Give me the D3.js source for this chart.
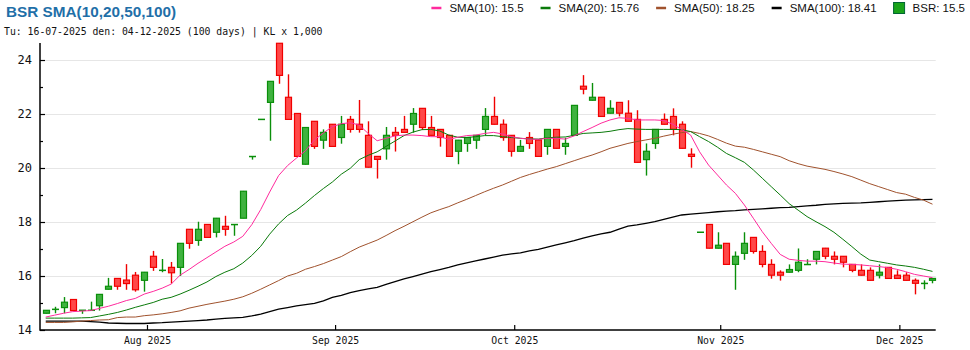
<!DOCTYPE html>
<html><head><meta charset="utf-8">
<script src="https://cdn.jsdelivr.net/npm/d3@7/dist/d3.min.js"></script>
<style>html,body{margin:0;padding:0;background:#fff;}svg{display:block;}</style>
</head><body><svg id="c" width="970" height="350"></svg>
<script>
// ---- data ----
const title = "BSR SMA(10,20,50,100)";
const subtitle = "Tu: 16-07-2025 den: 04-12-2025 (100 days) | KL x 1,000";
const startDate = "2025-07-16";
const tradingDays = 100;
const holidays = ["2025-09-01", "2025-09-02"];
const monthLabels = ["Aug 2025", "Sep 2025", "Oct 2025", "Nov 2025", "Dec 2025"];
const yTicks = [14, 16, 18, 20, 22, 24];
const yMinorTicks = [15, 17, 19, 21, 23];
const legendNames = ["SMA(10): 15.5", "SMA(20): 15.76", "SMA(50): 18.25", "SMA(100): 18.41", "BSR: 15.5"];

const open = [14.62,14.76,14.83,15.13,14.72,14.72,14.90,15.51,15.91,15.85,16.03,15.84,16.73,16.20,16.32,16.32,17.73,17.32,17.91,17.62,
17.84,17.90,18.14,20.42,21.80,22.43,24.62,22.62,22.02,20.14,21.73,21.03,21.62,21.13,21.80,21.62,21.21,20.43,20.71,21.32,
21.43,21.62,22.21,21.50,21.43,21.21,20.62,20.91,21.03,21.43,21.91,21.62,21.21,20.62,21.13,21.04,20.80,21.43,20.80,21.21,
23.03,22.51,22.62,22.03,22.43,22.03,21.80,20.31,20.91,21.80,21.91,21.62,20.51,17.62,17.91,17.03,17.21,16.43,16.84,17.43,
16.91,16.43,16.14,16.14,16.21,16.42,16.62,17.03,16.73,16.73,16.43,16.21,16.21,16.03,16.32,16.03,16.03,15.84,15.72,15.84];
const high = [14.74,14.86,15.22,15.14,14.74,15.05,15.33,15.93,15.92,16.44,16.15,16.15,16.93,16.63,16.52,17.22,17.74,18.01,17.92,18.15,
18.23,17.92,19.15,20.44,21.80,23.22,24.63,23.47,22.03,21.51,21.74,21.43,21.63,21.93,21.93,22.52,21.73,20.44,21.52,21.52,
21.93,22.22,22.22,21.93,21.44,21.22,21.04,21.14,21.22,22.22,22.64,21.80,21.22,21.04,21.33,21.05,21.44,21.44,21.12,22.33,
23.44,23.15,22.63,22.51,22.44,22.51,22.14,20.91,21.44,22.02,22.21,21.73,20.73,17.62,17.92,17.62,17.22,16.91,17.62,17.44,
17.14,16.62,16.21,16.43,17.02,16.62,16.92,17.04,16.91,16.74,16.44,16.43,16.32,16.43,16.33,16.21,16.14,15.91,15.84,15.92];
const low = [14.61,14.62,14.62,14.71,14.60,14.72,14.72,15.50,15.49,15.49,15.42,15.42,16.19,16.14,15.72,16.00,17.01,17.12,17.42,17.43,
17.49,17.49,18.14,20.31,21.80,21.01,23.12,21.79,20.42,20.13,20.71,20.71,20.79,20.90,21.31,21.31,20.02,19.61,20.31,20.61,
21.31,21.31,21.41,21.20,20.79,20.42,20.14,20.60,20.71,21.21,21.61,21.01,20.42,20.61,20.71,20.42,20.49,20.72,20.49,21.20,
22.73,22.50,21.90,22.02,21.91,21.72,20.20,19.72,20.71,21.61,21.21,20.72,20.01,17.62,17.02,17.02,16.42,15.49,16.60,16.83,
16.32,15.90,15.83,16.13,16.14,16.42,16.43,16.62,16.43,16.32,16.14,16.02,15.83,15.91,15.90,15.90,15.83,15.32,15.51,15.73];
const close = [14.73,14.77,15.03,14.72,14.74,14.74,15.32,15.62,15.62,15.72,15.49,16.14,16.32,16.22,16.12,17.21,17.21,17.73,17.43,18.14,
17.73,17.91,19.14,20.43,21.80,23.21,23.43,21.80,20.43,21.50,20.80,21.32,20.80,21.62,21.43,21.43,20.03,20.32,21.21,21.21,
21.32,22.02,21.50,21.21,21.13,20.43,21.03,21.13,21.21,21.91,21.62,21.13,20.62,20.80,20.91,20.43,21.43,20.73,20.91,22.32,
22.92,22.62,21.91,22.21,22.03,21.73,20.21,20.62,21.43,21.62,21.43,20.73,20.43,17.62,17.03,17.14,16.43,16.73,17.21,16.91,
16.43,16.03,16.03,16.24,16.51,16.43,16.91,16.73,16.62,16.51,16.21,16.03,15.84,16.14,15.91,15.91,15.84,15.73,15.73,15.91];

const sma10 = [14.48,14.55,14.62,14.68,14.70,14.72,14.80,14.88,14.98,15.09,15.17,15.33,15.43,15.55,15.70,16.03,16.24,16.47,16.68,16.89,
17.10,17.26,17.47,17.90,18.46,19.11,19.72,20.09,20.37,20.64,21.04,21.30,21.53,21.64,21.68,21.59,21.28,21.01,21.10,21.19,
21.22,21.22,21.20,21.16,21.16,21.06,21.14,21.20,21.22,21.28,21.32,21.26,21.16,21.10,21.07,21.06,21.10,21.10,21.07,21.19,
21.35,21.50,21.66,21.78,21.86,21.84,21.78,21.78,21.78,21.76,21.62,21.43,21.22,20.60,20.11,19.74,19.37,19.06,18.63,18.14,
17.64,17.21,16.80,16.62,16.58,16.55,16.55,16.53,16.48,16.44,16.43,16.41,16.38,16.35,16.31,16.25,16.16,16.06,16.00,15.94];
const sma20 = [14.44,14.44,14.44,14.44,14.45,14.46,14.52,14.58,14.65,14.74,14.84,14.93,15.02,15.14,15.21,15.33,15.47,15.62,15.78,15.98,
16.14,16.27,16.48,16.76,17.10,17.55,17.93,18.24,18.44,18.70,18.98,19.24,19.48,19.77,19.99,20.31,20.47,20.60,20.80,21.00,
21.20,21.33,21.42,21.43,21.37,21.22,21.14,21.13,21.16,21.20,21.20,21.16,21.13,21.10,21.08,21.07,21.12,21.14,21.15,21.21,
21.28,21.30,21.32,21.36,21.42,21.46,21.44,21.43,21.43,21.43,21.43,21.42,21.35,21.16,20.98,20.77,20.54,20.38,20.21,19.93,
19.62,19.31,19.00,18.68,18.44,18.20,18.01,17.83,17.62,17.36,17.09,16.81,16.59,16.53,16.47,16.41,16.37,16.32,16.25,16.17];
const sma50 = [14.28,14.28,14.28,14.30,14.33,14.35,14.37,14.38,14.46,14.48,14.48,14.53,14.56,14.60,14.65,14.71,14.81,14.88,14.95,15.01,
15.07,15.14,15.23,15.36,15.51,15.67,15.83,16.00,16.10,16.25,16.35,16.46,16.59,16.72,16.90,17.07,17.20,17.33,17.50,17.68,
17.84,18.01,18.18,18.34,18.46,18.57,18.71,18.84,18.98,19.12,19.25,19.37,19.51,19.65,19.76,19.86,19.96,20.05,20.16,20.27,
20.38,20.48,20.60,20.73,20.82,20.91,20.98,21.04,21.10,21.18,21.25,21.31,21.35,21.28,21.19,21.06,20.92,20.81,20.77,20.69,
20.60,20.51,20.42,20.27,20.16,20.07,20.01,19.95,19.87,19.78,19.68,19.55,19.42,19.31,19.20,19.09,19.03,18.91,18.81,18.66];
const sma100 = [14.33,14.33,14.33,14.33,14.33,14.31,14.29,14.26,14.25,14.24,14.24,14.24,14.26,14.27,14.29,14.31,14.33,14.35,14.37,14.40,
14.43,14.45,14.47,14.52,14.59,14.68,14.77,14.83,14.89,14.94,14.99,15.08,15.21,15.28,15.38,15.46,15.52,15.58,15.69,15.79,
15.89,15.98,16.07,16.16,16.24,16.32,16.41,16.49,16.56,16.63,16.70,16.77,16.82,16.86,16.93,16.99,17.07,17.15,17.23,17.31,
17.40,17.49,17.56,17.62,17.74,17.85,17.89,17.95,18.01,18.10,18.18,18.26,18.29,18.32,18.35,18.38,18.40,18.42,18.45,18.47,
18.49,18.51,18.53,18.54,18.57,18.60,18.62,18.65,18.67,18.69,18.70,18.71,18.73,18.75,18.77,18.79,18.81,18.82,18.83,18.84];

// ---- styles ----
const smaColors = ["#ff2a9d", "#0a7a0a", "#a0522d", "#000000"];
const upFill = "#3fb23f", upStroke = "#0a8f0a", downFill = "#ff4848", downStroke = "#f00000";
const mono = "DejaVu Sans Mono, monospace";
const sans = "Liberation Sans, Arial, sans-serif";

// ---- dates ----
const fmt = d3.timeFormat("%Y-%m-%d");
const dates = [];
{
  let d = d3.timeParse("%Y-%m-%d")(startDate);
  while (dates.length < tradingDays) {
    const wd = d.getDay();
    if (wd !== 0 && wd !== 6 && !holidays.includes(fmt(d))) dates.push(new Date(d));
    d = d3.timeDay.offset(d, 1);
  }
}
const idx = d3.range(tradingDays);

const svg = d3.select("#c");
const L = 40, R = 935.7, T = 43, B = 330;
const x = d3.scaleBand().domain(idx).range([L, R]).paddingInner(0).paddingOuter(0);
const step = x.step();
const cx = i => x(i) + step * 0.64;
const y = d3.scaleLinear().domain([14, d3.max(high)]).range([B, T]);

// grid
svg.append("g").selectAll("line").data(yTicks.filter(v => v > 14)).join("line")
  .attr("x1", L).attr("x2", R).attr("y1", d => Math.round(y(d)) + 0.5).attr("y2", d => Math.round(y(d)) + 0.5)
  .attr("stroke", "#e6e6e6").attr("stroke-width", 1.2);

// y axis
const yAxis = d3.axisRight(y).tickValues(yTicks).tickSize(5).tickFormat(d3.format("d"));
const gy = svg.append("g").attr("transform", `translate(${L},0)`).call(yAxis);
gy.select(".domain").remove();
gy.selectAll(".tick line").attr("stroke", "#000").attr("stroke-width", 1.2);
gy.selectAll(".tick text").attr("x", -8).attr("text-anchor", "end")
  .attr("font-family", mono).attr("font-size", 12).attr("fill", "#111");
const yMinor = d3.axisRight(y).tickValues(yMinorTicks).tickSize(3).tickFormat("");
const gy2 = svg.append("g").attr("transform", `translate(${L},0)`).call(yMinor);
gy2.select(".domain").remove();
gy2.selectAll(".tick line").attr("stroke", "#000").attr("stroke-width", 1.2);

// x axis (ticks at first trading day of each month)
const monthStarts = [];
dates.forEach((d, i) => { if (i > 0 && d.getMonth() !== dates[i - 1].getMonth()) monthStarts.push(i); });
const xAxis = d3.axisTop(x).tickValues(monthStarts).tickSize(5)
  .tickFormat((d, k) => monthLabels[k]);
const gx = svg.append("g").attr("transform", `translate(0,${B})`).call(xAxis);
gx.select(".domain").remove();
gx.selectAll(".tick").attr("transform", d => `translate(${x(d)},0)`);
gx.selectAll(".tick line").attr("stroke", "#000").attr("stroke-width", 1.2);
gx.selectAll(".tick text").attr("y", 14).attr("dy", 0)
  .attr("font-family", mono).attr("font-size", 9.8).attr("fill", "#111");

// axis lines
svg.append("line").attr("x1", L).attr("x2", L).attr("y1", T).attr("y2", B + 0.75).attr("stroke", "#000").attr("stroke-width", 1.5);
svg.append("line").attr("x1", L).attr("x2", R).attr("y1", B).attr("y2", B).attr("stroke", "#000").attr("stroke-width", 1.5);

// candles
const gc = svg.append("g");
idx.forEach(i => {
  const up = close[i] >= open[i];
  const sc = up ? upStroke : downStroke, fc = up ? upFill : downFill;
  const c = Math.round(cx(i)) + 0.5;
  gc.append("line").attr("x1", c).attr("x2", c).attr("y1", y(high[i])).attr("y2", y(low[i]))
    .attr("stroke", sc).attr("stroke-width", 1.4);
  const yt = y(Math.max(open[i], close[i])), yb = y(Math.min(open[i], close[i]));
  if (yb - yt < 1.2) {
    gc.append("line").attr("x1", c - 3.5).attr("x2", c + 3.5).attr("y1", (yt + yb) / 2).attr("y2", (yt + yb) / 2)
      .attr("stroke", sc).attr("stroke-width", 1.5);
  } else {
    gc.append("rect").attr("x", c - 3).attr("width", 6).attr("y", yt).attr("height", yb - yt)
      .attr("fill", fc).attr("stroke", sc).attr("stroke-width", 1.2);
  }
});

// SMA lines
const line = d3.line().x((d, i) => cx(i)).y(d => y(d));
[sma100, sma50, sma20, sma10].forEach((s, k) => {
  const col = smaColors[3 - k];
  svg.append("path").attr("d", line(s)).attr("fill", "none").attr("stroke", col)
    .attr("stroke-width", k === 0 ? 1.3 : 1);
});

// title
svg.append("text").attr("x", 6).attr("y", 17).text(title)
  .attr("font-family", sans).attr("font-weight", "bold")
  .attr("font-size", 15.3).attr("fill", "#1f6fa8");
svg.append("text").attr("x", 4).attr("y", 35).text(subtitle)
  .attr("font-family", mono).attr("font-size", 9.8).attr("fill", "#111");

// legend (right aligned)
const lg = svg.append("g");
const swatchColors = [smaColors[0], smaColors[1], smaColors[2], smaColors[3], null];
let xpos = 965;
for (let k = legendNames.length - 1; k >= 0; k--) {
  const t = lg.append("text").attr("y", 8).attr("dominant-baseline", "central").text(legendNames[k])
    .attr("font-family", sans).attr("font-size", 11.5).attr("fill", "#111");
  const w = t.node().getComputedTextLength();
  xpos -= w;
  t.attr("x", xpos);
  xpos -= 8;
  if (swatchColors[k]) {
    lg.append("line").attr("x1", xpos - 10).attr("x2", xpos).attr("y1", 8).attr("y2", 8)
      .attr("stroke", swatchColors[k]).attr("stroke-width", 2.5);
    xpos -= 10;
  } else {
    lg.append("rect").attr("x", xpos - 11).attr("y", 2.5).attr("width", 11).attr("height", 11)
      .attr("fill", "#1aa31a").attr("stroke", "#063").attr("stroke-width", 1);
    xpos -= 11;
  }
  xpos -= 17;
}
</script></body></html>
